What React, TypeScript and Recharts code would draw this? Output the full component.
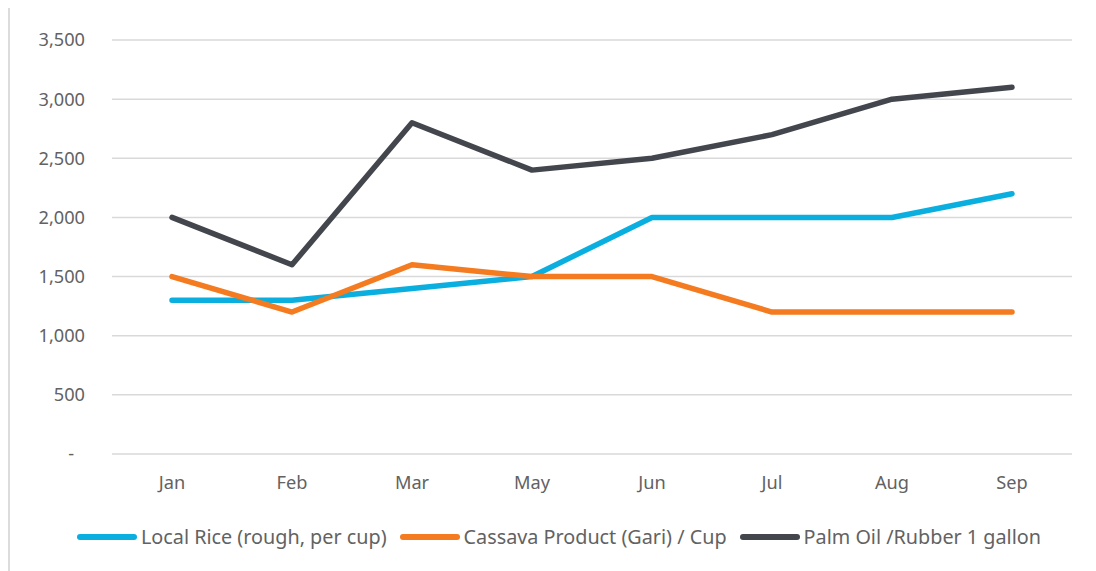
import { CartesianGrid, Line, LineChart, XAxis, YAxis } from "recharts"

const months = ["Jan", "Feb", "Mar", "May", "Jun", "Jul", "Aug", "Sep"]
const localRice = [1300, 1300, 1400, 1500, 2000, 2000, 2000, 2200]
const cassava = [1500, 1200, 1600, 1500, 1500, 1200, 1200, 1200]
const palmOil = [2000, 1600, 2800, 2400, 2500, 2700, 3000, 3100]
const yTicks = [0, 500, 1000, 1500, 2000, 2500, 3000, 3500]

const series = [
  { key: "rice", name: "Local Rice (rough, per cup)", color: "#0AAFE0" },
  { key: "cassava", name: "Cassava Product (Gari) / Cup", color: "#F47B20" },
  { key: "palm", name: "Palm Oil /Rubber 1 gallon", color: "#44464E" },
]

const data = months.map((m, i) => ({
  month: m,
  rice: localRice[i],
  cassava: cassava[i],
  palm: palmOil[i],
}))

const FONT = "'Noto Sans', sans-serif"
const TEXT = "#626262"

const YTick = (props: any) => {
  const { x, y, payload } = props
  const v = payload.value as number
  const label = v === 0 ? "-" : v.toLocaleString("en-US")
  return (
    <text
      x={v === 0 ? x - 11 : x}
      y={y}
      dy="0.35em"
      textAnchor="end"
      fill={TEXT}
      fontSize={18.2}
      fontFamily={FONT}
    >
      {label}
    </text>
  )
}

export default function App() {
  return (
    <div
      style={{
        position: "relative",
        marginTop: -2,
        width: 1086,
        height: 565,
        borderLeft: "2px solid #dcdcdc",
        borderTop: "2px solid #dcdcdc",
        overflow: "hidden",
      }}
    >
      <LineChart
        width={1086}
        height={565}
        data={data}
        margin={{ top: 32, right: 24, bottom: 59, left: 0 }}
      >
        <CartesianGrid vertical={false} stroke="#d9d9d9" strokeWidth={1.5} />
        <XAxis
          dataKey="month"
          axisLine={false}
          tickLine={false}
          tickSize={0}
          tickMargin={22}
          height={60}
          padding={{ left: 60, right: 60 }}
          tick={{ fill: TEXT, fontSize: 18.2, fontFamily: FONT }}
        />
        <YAxis
          domain={[0, 3500]}
          ticks={yTicks}
          axisLine={false}
          tickLine={false}
          tickSize={0}
          tickMargin={27}
          width={102}
          tick={<YTick />}
        />
        {series.map((s) => (
          <Line
            key={s.key}
            type="linear"
            dataKey={s.key}
            name={s.name}
            stroke={s.color}
            strokeWidth={5.5}
            strokeLinecap="round"
            strokeLinejoin="round"
            dot={false}
            activeDot={false}
            isAnimationActive={false}
          />
        ))}
      </LineChart>
      <div
        style={{
          position: "absolute",
          left: 67,
          top: 515,
          display: "flex",
          alignItems: "center",
          fontFamily: FONT,
          fontSize: 19.8,
          color: TEXT,
          whiteSpace: "nowrap",
        }}
      >
        {series.map((s) => (
          <div key={s.key} style={{ display: "flex", alignItems: "center", marginRight: 13 }}>
            <span
              style={{
                display: "inline-block",
                width: 60,
                height: 6,
                borderRadius: 3,
                background: s.color,
                marginRight: 4,
              }}
            />
            <span>{s.name}</span>
          </div>
        ))}
      </div>
    </div>
  )
}
